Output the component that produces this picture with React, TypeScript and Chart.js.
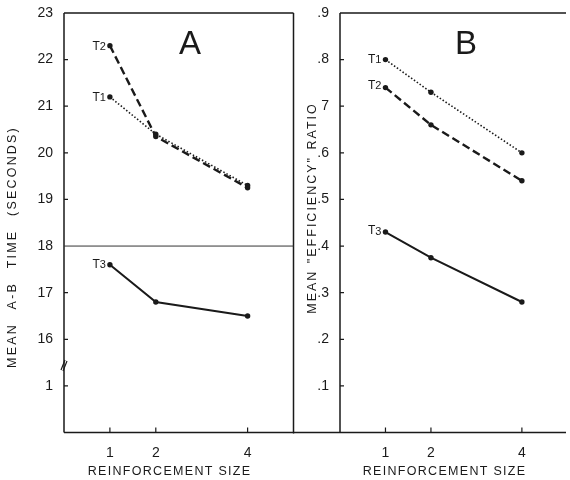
import React, { useEffect, useRef } from "react";
import { Chart, registerables } from "chart.js";

Chart.register(...registerables);

// ---------- data ----------
const reinforcementSizes = [1, 2, 4];
const xTickValues = [1, 2, 4];
const xTickLabels = ["1", "2", "4"];
const seriesNames = ["T1", "T2", "T3"];

// Panel A: mean A-B time (seconds)
const timeT1 = [21.2, 20.4, 19.3];
const timeT2 = [22.3, 20.35, 19.25];
const timeT3 = [17.6, 16.8, 16.5];
const timeTickValues = [15, 16, 17, 18, 19, 20, 21, 22, 23];
const timeTickLabels = ["1", "16", "17", "18", "19", "20", "21", "22", "23"];

// Panel B: mean "efficiency" ratio
const effT1 = [0.8, 0.73, 0.6];
const effT2 = [0.74, 0.66, 0.54];
const effT3 = [0.43, 0.375, 0.28];
const effTickValues = [0.1, 0.2, 0.3, 0.4, 0.5, 0.6, 0.7, 0.8, 0.9];
const effTickLabels = [".1", ".2", ".3", ".4", ".5", ".6", "7", ".8", ".9"];

const INK = "#1a1a1a";
const FONT = "'Liberation Sans', Arial, Helvetica, sans-serif";

const decor = {
  id: "decor",
  afterDatasetsDraw(chart: any, _args: any, o: any) {
    const ctx = chart.ctx as CanvasRenderingContext2D;
    const a = chart.chartArea;
    const xs = chart.scales.x;
    const ys = chart.scales.y;
    ctx.save();
    ctx.setLineDash([]);
    ctx.strokeStyle = INK;
    ctx.lineWidth = 1.5;
    ctx.beginPath();
    ctx.moveTo(a.left, a.top);
    ctx.lineTo(a.left, a.bottom);
    ctx.moveTo(o.bottomFrom != null ? o.bottomFrom : a.left, a.bottom);
    ctx.lineTo(a.right, a.bottom);
    ctx.moveTo(a.left, a.top);
    ctx.lineTo(a.right, a.top);
    if (o.rightBorder) {
      ctx.moveTo(a.right, a.top);
      ctx.lineTo(a.right, a.bottom + 1);
    }
    ctx.stroke();

    // inward tick marks
    ctx.lineWidth = 1.2;
    ctx.beginPath();
    ys.ticks.forEach((t: any) => {
      const y = ys.getPixelForValue(t.value);
      if (Math.abs(y - a.top) < 1 || t.value === o.refLine) return;
      ctx.moveTo(a.left, y);
      ctx.lineTo(a.left + 4, y);
    });
    xs.ticks.forEach((t: any) => {
      const x = xs.getPixelForValue(t.value);
      ctx.moveTo(x, a.bottom);
      ctx.lineTo(x, a.bottom - 5);
    });
    ctx.stroke();

    // reference line
    if (o.refLine != null) {
      const y = ys.getPixelForValue(o.refLine);
      ctx.lineWidth = 1;
      ctx.strokeStyle = "#333";
      ctx.beginPath();
      ctx.moveTo(a.left, y);
      ctx.lineTo(a.right, y);
      ctx.stroke();
    }

    // axis break marks
    if (o.breakAt != null) {
      const y = ys.getPixelForValue(o.breakAt);
      ctx.lineWidth = 1.2;
      ctx.strokeStyle = INK;
      ctx.beginPath();
      ctx.moveTo(a.left - 3, y + 5);
      ctx.lineTo(a.left + 1, y - 5);
      ctx.moveTo(a.left - 1, y + 6);
      ctx.lineTo(a.left + 3, y - 4);
      ctx.stroke();
    }

    // series labels
    ctx.fillStyle = INK;
    ctx.textBaseline = "alphabetic";
    chart.data.datasets.forEach((ds: any, i: number) => {
      const p = chart.getDatasetMeta(i).data[0];
      if (!p) return;
      const name: string = ds.label;
      const main = name.slice(0, 1);
      const sub = name.slice(1);
      ctx.font = `12px ${FONT}`;
      const wMain = ctx.measureText(main).width;
      ctx.font = `11px ${FONT}`;
      const wSub = ctx.measureText(sub).width;
      const right = p.x - 4;
      const base = p.y + 4 + (o.labelDy ? o.labelDy[i] : 0);
      ctx.textAlign = "left";
      ctx.font = `12px ${FONT}`;
      ctx.fillText(main, right - wSub - wMain, base);
      ctx.font = `11px ${FONT}`;
      ctx.fillText(sub, right - wSub, base + 0.5);
    });

    // panel letter
    ctx.font = `33px ${FONT}`;
    ctx.textAlign = "center";
    ctx.textBaseline = "middle";
    ctx.fillText(o.letter, a.left + 126, a.top + 32);

    // x title
    ctx.font = `12.5px ${FONT}`;
    (ctx as any).letterSpacing = "1.3px";
    ctx.textAlign = "center";
    ctx.textBaseline = "middle";
    ctx.fillText("REINFORCEMENT SIZE", xs.getPixelForValue(o.xTitleAt), a.bottom + 39);

    // y title
    ctx.save();
    ctx.translate(o.yTitleX, o.yTitleY);
    ctx.rotate(-Math.PI / 2);
    ctx.font = `12.5px ${FONT}`;
    (ctx as any).letterSpacing = o.yLetterSpacing;
    (ctx as any).wordSpacing = o.yWordSpacing;
    ctx.fillText(o.yTitle, 0, 0);
    ctx.restore();

    ctx.restore();
  },
};

function lineDatasets(t1: number[], t2: number[], t3: number[]) {
  const pts = (arr: number[]) => reinforcementSizes.map((x, i) => ({ x, y: arr[i] }));
  const common = {
    borderColor: INK,
    pointBackgroundColor: INK,
    pointBorderWidth: 0,
    pointRadius: 2.7,
    tension: 0,
    fill: false,
  };
  return [
    { ...common, label: seriesNames[0], data: pts(t1), borderWidth: 1.6, borderDash: [1.5, 2] },
    { ...common, label: seriesNames[1], data: pts(t2), borderWidth: 2.4, borderDash: [8, 4] },
    { ...common, label: seriesNames[2], data: pts(t3), borderWidth: 2 },
  ];
}

function makeConfig(p: any): any {
  return {
    type: "line",
    data: { datasets: lineDatasets(p.t1, p.t2, p.t3) },
    plugins: [decor],
    options: {
      animation: false,
      responsive: false,
      maintainAspectRatio: false,
      layout: { padding: { left: 0, right: p.padRight, top: 13, bottom: 0 } },
      plugins: {
        legend: { display: false },
        tooltip: { enabled: false },
        decor: p.decor,
      },
      scales: {
        x: {
          type: "linear",
          min: 0,
          max: p.xMax,
          grid: { display: false },
          border: { display: false },
          afterBuildTicks: (s: any) => {
            s.ticks = xTickValues.map((v) => ({ value: v }));
          },
          afterFit: (s: any) => {
            s.height = 47.5;
          },
          ticks: {
            autoSkip: false,
            maxRotation: 0,
            padding: 4,
            color: INK,
            font: { family: FONT, size: 14 },
            callback: (v: number) => xTickLabels[xTickValues.indexOf(v)] ?? "",
          },
        },
        y: {
          type: "linear",
          min: p.yMin,
          max: p.yMax,
          grid: { display: false },
          border: { display: false },
          afterBuildTicks: (s: any) => {
            s.ticks = p.yTicks.map((v: number) => ({ value: v }));
          },
          afterFit: (s: any) => {
            s.width = p.yWidth;
          },
          ticks: {
            autoSkip: false,
            padding: 3,
            color: INK,
            font: { family: FONT, size: 14 },
            callback: (v: number) => {
              const i = p.yTicks.findIndex((t: number) => Math.abs(t - v) < 1e-6);
              return i >= 0 ? p.yLabels[i] : "";
            },
          },
        },
      },
    },
  };
}

function Panel({ left, width, cfg }: { left: number; width: number; cfg: any }) {
  const ref = useRef<HTMLCanvasElement>(null);
  useEffect(() => {
    if (!ref.current) return;
    const chart = new Chart(ref.current, cfg);
    return () => chart.destroy();
  }, []);
  return (
    <canvas
      ref={ref}
      width={width}
      height={480}
      style={{ position: "absolute", left, top: 0, width, height: 480 }}
    />
  );
}

const configA = makeConfig({
  t1: timeT1,
  t2: timeT2,
  t3: timeT3,
  yMin: 14,
  yMax: 23,
  yTicks: timeTickValues,
  yLabels: timeTickLabels,
  yWidth: 64,
  padRight: 6.5,
  xMax: 5,
  decor: {
    letter: "A",
    rightBorder: true,
    refLine: 18,
    breakAt: 15.45,
    xTitleAt: 2.3,
    yTitle: "MEAN A-B TIME (SECONDS)",
    yTitleX: 12.5,
    yTitleY: 247,
    yLetterSpacing: "2.2px",
    yWordSpacing: "8px",
    labelDy: [0, 0, -1],
  },
});

const configB = makeConfig({
  t1: effT1,
  t2: effT2,
  t3: effT3,
  yMin: 0,
  yMax: 0.9,
  yTicks: effTickValues,
  yLabels: effTickLabels,
  yWidth: 47,
  padRight: 0,
  xMax: 4.97,
  decor: {
    letter: "B",
    rightBorder: false,
    bottomFrom: 0,
    xTitleAt: 2.3,
    yTitle: "MEAN \"EFFICIENCY\" RATIO",
    yTitleX: 20,
    yTitleY: 208,
    yLetterSpacing: "2px",
    yWordSpacing: "1px",
    labelDy: [-1, -3, -2],
  },
});

export default function App() {
  return (
    <div
      style={{
        position: "absolute",
        left: 0,
        top: 0,
        width: 570,
        height: 480,
        background: "#fff",
        overflow: "hidden",
      }}
    >
      <Panel left={0} width={300} cfg={configA} />
      <Panel left={293} width={277} cfg={configB} />
    </div>
  );
}
